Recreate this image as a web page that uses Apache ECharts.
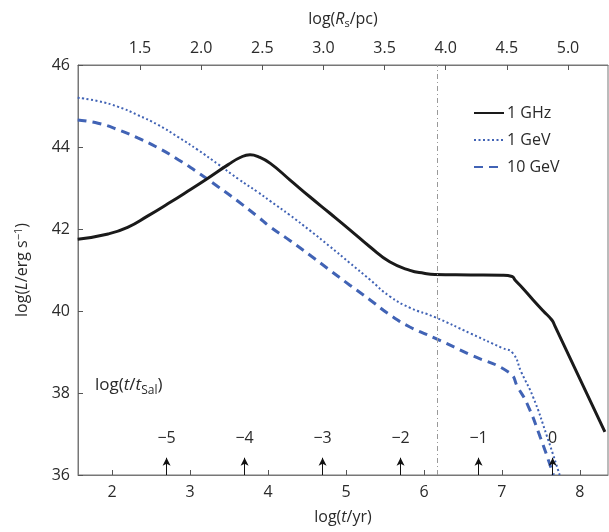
<!DOCTYPE html>
<html>
<head>
<meta charset="utf-8">
<script src="https://cdn.jsdelivr.net/npm/echarts@6/dist/echarts.min.js"></script>
<style>
  html, body { margin: 0; padding: 0; background: #fff; }
  #chart { width: 609px; height: 532px; }
</style>
</head>
<body>
<div id="chart"></div>
<script>
// log(t/yr) sample points and log(L) for each curve
const tGHz = [1.56, 1.95, 2.2, 2.46, 2.72, 2.97, 3.23, 3.49, 3.65, 3.77, 3.88, 4.03, 4.28, 4.54, 4.79, 5.05, 5.31, 5.56, 5.82, 6.0, 6.14, 6.6, 7.0, 7.13, 7.17, 7.27, 7.4, 7.53, 7.64, 7.68, 8.32]
const lGHz = [41.75, 41.88, 42.04, 42.32, 42.62, 42.92, 43.24, 43.57, 43.75, 43.81, 43.76, 43.6, 43.2, 42.78, 42.39, 41.98, 41.56, 41.2, 40.99, 40.92, 40.89, 40.88, 40.87, 40.84, 40.75, 40.55, 40.27, 40.0, 39.78, 39.63, 37.05]

const tGeV1 = [1.56, 1.82, 2.08, 2.33, 2.59, 2.85, 3.1, 3.36, 3.62, 3.87, 4.03, 4.28, 4.54, 4.79, 5.05, 5.31, 5.56, 5.82, 6.14, 6.6, 7.0, 7.14, 7.25, 7.4, 7.58, 7.74]
const lGeV1 = [45.2, 45.12, 44.98, 44.78, 44.54, 44.24, 43.93, 43.58, 43.22, 42.9, 42.68, 42.34, 41.96, 41.58, 41.17, 40.76, 40.36, 40.08, 39.85, 39.45, 39.1, 38.97, 38.5, 37.9, 36.93, 36.0]

const tGeV10 = [1.56, 1.82, 2.08, 2.33, 2.59, 2.85, 3.1, 3.36, 3.62, 3.87, 4.03, 4.28, 4.54, 4.79, 5.05, 5.31, 5.56, 5.82, 6.14, 6.6, 7.1, 7.2, 7.32, 7.49, 7.66]
const lGeV10 = [44.66, 44.58, 44.42, 44.22, 43.98, 43.69, 43.38, 43.03, 42.67, 42.3, 42.05, 41.72, 41.36, 41.0, 40.63, 40.27, 39.91, 39.61, 39.34, 38.93, 38.49, 38.15, 37.75, 36.93, 36.0]

// tick values
const tTicks = [2, 3, 4, 5, 6, 7, 8]
const rsTicks = [1.5, 2.0, 2.5, 3.0, 3.5, 4.0, 4.5, 5.0]
// log(t/tSal) markers
const salLabels = ['−5', '−4', '−3', '−2', '−1', '0']
const salPos = [2.7, 3.7, 4.7, 5.7, 6.7, 7.65]
const vLineT = 6.17

const font = 'Open Sans'
const txt = '#2a2a2a'
const blue = '#4163b5'

const pairs = (xs, ys) => xs.map((x, i) => [x, ys[i]])

const chart = echarts.init(document.getElementById('chart'))

const option = {
  animation: false,
  textStyle: { fontFamily: font },
  grid: {
    left: 78, right: 1, top: 65, bottom: 57,
    show: true, borderColor: '#777', borderWidth: 1
  },
  legend: {
    left: 468, top: 100, orient: 'vertical',
    itemWidth: 30, itemHeight: 14, itemGap: 11,
    itemStyle: { opacity: 0 },
    textStyle: { fontSize: 16, color: txt, fontFamily: font, padding: [0, 0, 0, -2] },
    data: ['1 GHz', '1 GeV', '10 GeV']
  },
  xAxis: [
    {
      type: 'value', position: 'bottom', min: 1.564, max: 8.36,
      name: 'log({i|t}/yr)', nameLocation: 'middle', nameGap: 34,
      nameTextStyle: {
        fontSize: 16, color: txt, fontFamily: font,
        rich: { i: { fontStyle: 'italic', fontSize: 16, color: txt, fontFamily: font } }
      },
      axisLine: { lineStyle: { color: '#777' } },
      axisTick: { inside: true, length: 5, lineStyle: { color: '#555' }, customValues: tTicks },
      axisLabel: { fontSize: 16, color: txt, margin: 9, customValues: tTicks },
      splitLine: { show: false }
    },
    {
      type: 'value', position: 'top', min: 0.993, max: 5.327,
      name: 'log({i|R}{sub|s}/pc)', nameLocation: 'middle', nameGap: 36,
      nameTextStyle: {
        fontSize: 16, color: txt, fontFamily: font,
        rich: {
          i: { fontStyle: 'italic', fontSize: 16, color: txt, fontFamily: font },
          sub: { fontSize: 11, color: txt, fontFamily: font, padding: [9, 0, 0, 0] }
        }
      },
      axisLine: { lineStyle: { color: '#777' } },
      axisTick: { inside: true, length: 5, lineStyle: { color: '#555' }, customValues: rsTicks },
      axisLabel: {
        fontSize: 16, color: txt, margin: 9, customValues: rsTicks,
        formatter: v => v.toFixed(1)
      },
      splitLine: { show: false }
    }
  ],
  yAxis: {
    type: 'value', min: 36, max: 46, interval: 2,
    name: 'log({i|L}/erg s{sup|−1})', nameLocation: 'middle', nameGap: 46,
    nameTextStyle: {
      fontSize: 16, color: txt, fontFamily: font,
      rich: {
        i: { fontStyle: 'italic', fontSize: 16, color: txt, fontFamily: font },
        sup: { fontSize: 11, color: txt, fontFamily: font, padding: [0, 0, 8, 0] }
      }
    },
    axisLine: { show: true, lineStyle: { color: '#777' } },
    axisTick: { show: true, inside: true, length: 5, lineStyle: { color: '#555' } },
    axisLabel: { fontSize: 16, color: txt, margin: 8 },
    splitLine: { show: false }
  },
  graphic: [
    {
      type: 'text', left: 95, top: 377,
      style: {
        text: 'log({i|t}/{i|t}{sub|Sal})',
        fontSize: 17, fill: txt, fontFamily: font,
        rich: {
          i: { fontStyle: 'italic', fontSize: 17, fill: txt, fontFamily: font },
          sub: { fontSize: 12, fill: txt, fontFamily: font, padding: [10, 0, 0, 0] }
        }
      }
    }
  ],
  series: [
    {
      name: '1 GHz', type: 'line', xAxisIndex: 0, symbol: 'none', smooth: 0.5,
      lineStyle: { color: '#1a1a1a', width: 3 }, itemStyle: { color: '#1a1a1a' },
      data: pairs(tGHz, lGHz), z: 3,
      markLine: {
        silent: true, symbol: 'none',
        label: { show: false },
        lineStyle: { color: '#999', width: 1, type: [5, 3, 1, 3] },
        data: [{ xAxis: vLineT }]
      }
    },
    {
      name: '1 GeV', type: 'line', xAxisIndex: 0, symbol: 'none', smooth: 0.5,
      lineStyle: { color: blue, width: 2, type: [2, 2.5] }, itemStyle: { color: blue },
      data: pairs(tGeV1, lGeV1), z: 2
    },
    {
      name: '10 GeV', type: 'line', xAxisIndex: 0, symbol: 'none', smooth: 0.5,
      lineStyle: { color: blue, width: 3, type: [9, 6] }, itemStyle: { color: blue },
      data: pairs(tGeV10, lGeV10), z: 2
    },
    {
      name: 'tSal', type: 'line', xAxisIndex: 0, data: [], symbol: 'none',
      markLine: {
        silent: true,
        symbol: ['none', 'arrow'], symbolSize: [6, 8],
        lineStyle: { color: '#111', width: 1, type: 'solid' },
        label: {
          show: true, position: 'end', distance: 11,
          fontSize: 16, color: txt, fontFamily: font,
          formatter: p => p.data.name
        },
        data: salPos.map((t, i) => [
          { coord: [t, 36], name: salLabels[i] },
          { coord: [t, 36.42] }
        ])
      }
    }
  ]
}

chart.setOption(option)
</script>
</body>
</html>
